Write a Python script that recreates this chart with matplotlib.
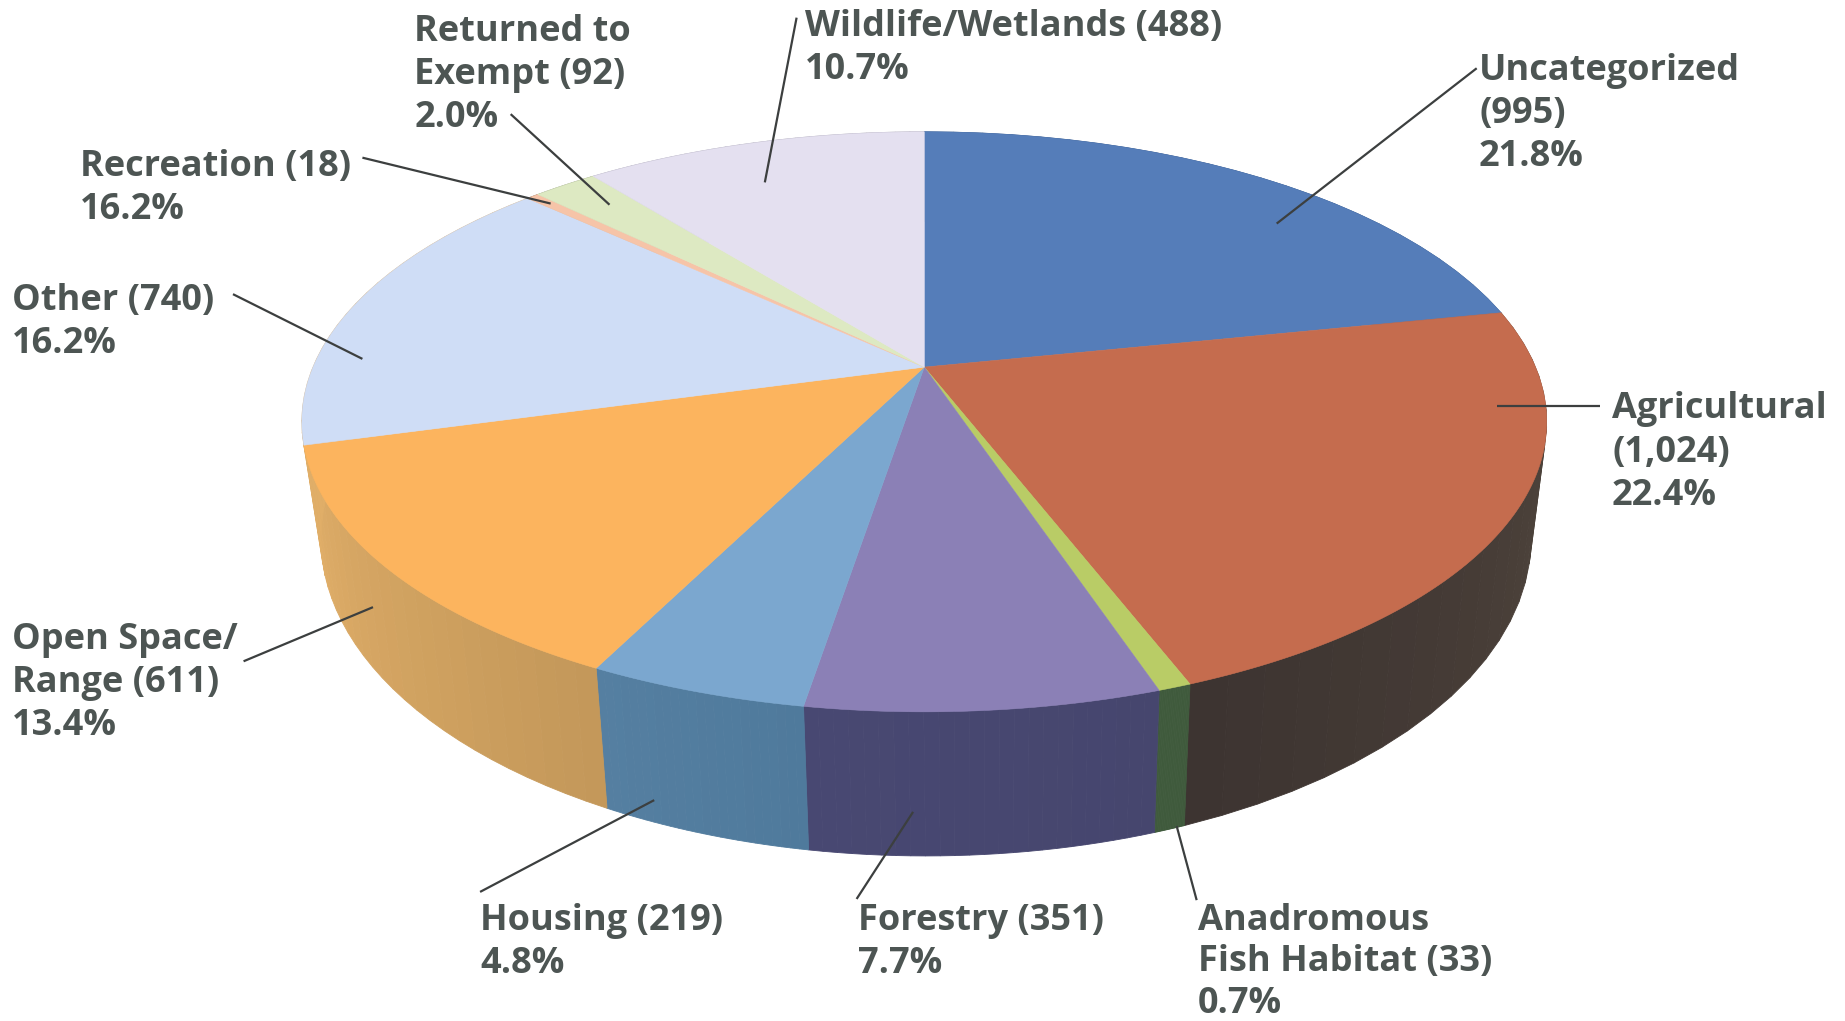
import numpy as np
import matplotlib
matplotlib.use("Agg")
import matplotlib.pyplot as plt
from matplotlib.patches import Polygon
from matplotlib.colors import to_rgb

categories = ["Uncategorized", "Agricultural", "Anadromous Fish Habitat", "Forestry", "Housing",
              "Open Space/Range", "Other", "Recreation", "Returned to Exempt", "Wildlife/Wetlands"]
values = [995, 1024, 33, 351, 219, 611, 740, 18, 92, 488]
labels = ["Uncategorized\n(995)\n21.8%", "Agricultural\n(1,024)\n22.4%",
          "Anadromous\nFish Habitat (33)\n0.7%", "Forestry (351)\n7.7%", "Housing (219)\n4.8%",
          "Open Space/\nRange (611)\n13.4%", "Other (740)\n16.2%", "Recreation (18)\n16.2%",
          "Returned to\nExempt (92)\n2.0%", "Wildlife/Wetlands (488)\n10.7%"]

top_colors = ["#557db9", "#c56c4e", "#b9cc66", "#8b80b6", "#7ba7cf",
              "#fcb45e", "#cfddf6", "#f6c4a8", "#dde9c2", "#e4e0f0"]
wall_left = ["#3a5a88", "#54493f", "#3f5a3c", "#46466e", "#4f7a9c",
             "#c4985a", "#e0ae68", "#a88a76", "#9aa388", "#a09cac"]
wall_right = ["#3a5a88", "#3d3431", "#3f5a3c", "#484872", "#557fa1",
              "#e0ae68", "#e0ae68", "#a88a76", "#9aa388", "#a09cac"]

S = 1845 / 1568
TOP = dict(cx=785.5 * S, cy=312 * S, a=519.5 * S, b=237.7 * S, k=0.1886)
BOT = dict(cx=787 * S, cy=407 * S, a=505 * S, b=260 * S, k=0.1886)

text_anchor = [(1257, 60), (1370, 348), (1018, 782.5), (729, 783), (408, 783),
               (10, 544), (10, 256), (68, 142), (352, 27), (684, 23)]
line_gaps = [36.6, 36.6, 35.2, 36.6, 36.6, 36.6, 36.6, 36.6, 36.6, 36.6]
leaders = [((1255, 58), (1085, 190)), ((1360, 345), (1272, 345)), ((1017, 765), (1000, 702)),
           ((728, 764), (776, 690)), ((408, 758), (556, 680)), ((207, 562), (317, 516)),
           ((198, 250), (308, 305)), ((308, 134), (468, 173)), ((434, 97), (518, 174)),
           ((677, 15), (650, 155))]
TEXT_COLOR = "#4d5553"


def project(theta, g):
    x, y = np.sin(theta), np.cos(theta)
    d = 1 + g["k"] * y
    return g["cx"] + g["a"] * x / d, g["cy"] - g["b"] * y / d


fig = plt.figure(figsize=(18.45, 10.21), dpi=100, facecolor="white")
ax = fig.add_axes([0, 0, 1, 1])
ax.set_xlim(0, 1845)
ax.set_ylim(1021, 0)
ax.axis("off")

edges = 2 * np.pi * np.concatenate([[0], np.cumsum(values)]) / np.sum(values)

# side walls, split in shaded strips
for i in range(len(values)):
    th = np.linspace(edges[i], edges[i + 1], 25)
    c0, c1 = np.array(to_rgb(wall_left[i])), np.array(to_rgb(wall_right[i]))
    for j in range(len(th) - 1):
        seg = np.array([th[j], th[j + 1]])
        xt, yt = project(seg, TOP)
        xb, yb = project(seg, BOT)
        pts = np.column_stack([np.r_[xt, xb[::-1]], np.r_[yt, yb[::-1]]])
        col = c0 + (c1 - c0) * j / (len(th) - 2)
        ax.add_patch(Polygon(pts, closed=True, fc=col, ec=col, lw=0.6, zorder=1))

# top face
for i in range(len(values)):
    th = np.linspace(edges[i], edges[i + 1], 120)
    xt, yt = project(th, TOP)
    pts = np.column_stack([np.r_[TOP["cx"], xt], np.r_[TOP["cy"], yt]])
    ax.add_patch(Polygon(pts, closed=True, fc=top_colors[i], ec=top_colors[i], lw=0.4, zorder=2))

for (p0, p1) in leaders:
    ax.plot([p0[0] * S, p1[0] * S], [p0[1] * S, p1[1] * S], color="#3c3f3f", lw=1.6,
            solid_capstyle="butt", zorder=3)

for lab, (tx, ty), gap in zip(labels, text_anchor, line_gaps):
    for n, line in enumerate(lab.split("\n")):
        ax.text(tx * S, (ty + n * gap) * S, line, family=["Open Sans", "DejaVu Sans"], weight="bold",
                fontsize=26, color=TEXT_COLOR, ha="left", va="center", zorder=4)

fig.savefig("out.png", dpi=100, facecolor="white")
